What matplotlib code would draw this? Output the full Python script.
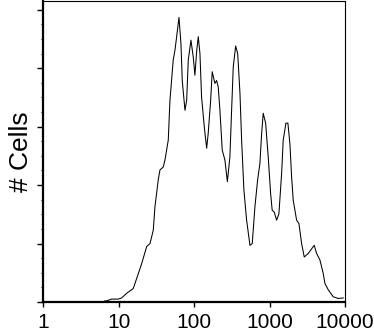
import numpy as np
import matplotlib
matplotlib.use('Agg')
import matplotlib.pyplot as plt
from matplotlib.ticker import LogLocator, MultipleLocator, NullFormatter

plt.rcParams['font.family'] = ['Liberation Sans', 'DejaVu Sans']

# histogram trace (fluorescence, relative count)
fluor = [6.5, 6.9, 8.0, 9.8, 10.9, 12.7, 15.5, 17.2, 20.1, 23.4, 25.9, 28.6, 30.1,
         33.3, 35.1, 38.8, 40.9, 45.2, 47.6, 52.6, 55.5, 58.4, 62.7, 66.6, 69.3,
         75.3, 79.3, 83.3, 90.4, 97.0, 102, 108, 113, 119, 125, 136, 146, 153,
         165, 173, 188, 198, 208, 219, 235, 255, 275, 297, 313, 329, 354, 377,
         404, 425, 456, 495, 548, 588, 638, 693, 743, 783, 822, 885, 958, 1030,
         1081, 1150, 1238, 1328, 1442, 1514, 1644, 1747, 1857, 1957, 2056, 2280,
         2448, 2656, 2877, 3250, 3606, 3906, 4200, 4645, 5137, 5408, 5985, 6978,
         8128, 9462]
cells = [0.02, 0.02, 0.05, 0.05, 0.07, 0.15, 0.23, 0.40, 0.66, 0.95, 1.00, 1.23, 1.63,
         2.09, 2.26, 2.31, 2.43, 2.77, 3.45, 4.14, 4.31, 4.54, 4.87, 4.42, 3.79,
         3.28, 3.45, 4.14, 4.48, 4.19, 3.88, 4.31, 4.54, 4.25, 3.51, 2.99, 2.63, 2.88,
         3.45, 3.94, 3.74, 3.79, 3.68, 3.28, 2.60, 2.43, 2.06, 2.48, 3.28, 4.02, 4.38, 4.25,
         3.57, 2.77, 1.91, 1.40, 0.97, 1.00, 1.63, 2.09, 2.37, 2.88, 3.23, 3.06, 2.48, 1.86,
         1.57, 1.54, 1.40, 1.51, 2.20, 2.77, 3.06, 3.06, 2.71, 2.14, 1.74, 1.40,
         1.34, 1.00, 0.77, 0.83, 0.91, 0.97, 0.83, 0.72, 0.49, 0.32, 0.21, 0.09,
         0.06, 0.07]

xticks = [1, 10, 100, 1000, 10000]
xticklabels = ['1', '10', '100', '1000', '10000']

fig = plt.figure(figsize=(3.74, 3.34), dpi=100)
ax = fig.add_axes([0.1163, 0.0958, 0.8062, 0.9012])

ax.plot(fluor, cells, color='black', linewidth=0.75)

ax.set_xscale('log')
ax.set_xlim(1, 10000)
ax.set_ylim(0, 5.15)

ax.xaxis.set_minor_locator(LogLocator(base=10, subs=np.arange(2, 10)))
ax.xaxis.set_minor_formatter(NullFormatter())
ax.set_xticks(xticks)
ax.set_xticklabels(xticklabels)

ax.yaxis.set_major_locator(MultipleLocator(1))
ax.yaxis.set_minor_locator(MultipleLocator(0.25))
ax.set_yticklabels([])

ax.spines['left'].set_linewidth(1.6)
ax.spines['bottom'].set_linewidth(1.6)
ax.spines['top'].set_linewidth(0.8)
ax.spines['right'].set_linewidth(0.8)

ax.tick_params(axis='x', which='major', length=3.6, width=1, direction='out', labelsize=15, pad=4.5)
ax.tick_params(axis='x', which='minor', length=2.2, width=0.8, direction='out')
ax.tick_params(axis='y', which='major', length=4.3, width=1, direction='out')
ax.tick_params(axis='y', which='minor', length=1.8, width=0.8, direction='out')

ax.set_ylabel('# Cells', fontsize=19)
ax.yaxis.set_label_coords(-0.035, 0.5)

fig.savefig('out.png', dpi=100)
